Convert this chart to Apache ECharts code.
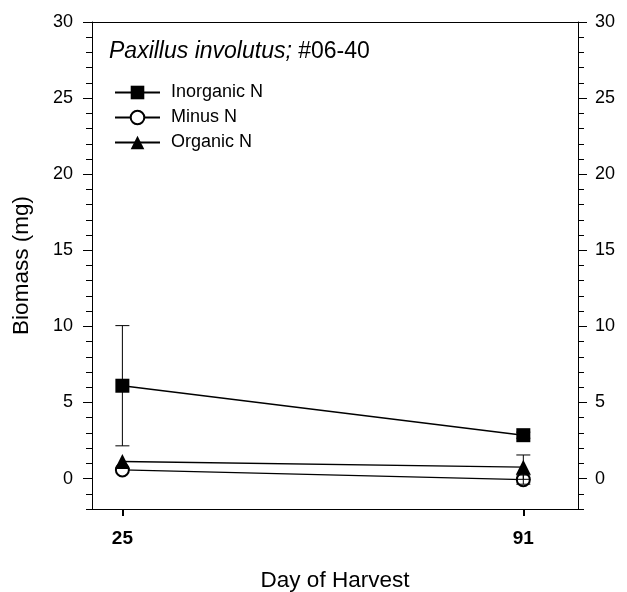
<!DOCTYPE html>
<html><head><meta charset="utf-8">
<script src="https://cdn.jsdelivr.net/npm/echarts@6/dist/echarts.min.js"></script>
<style>html,body{margin:0;padding:0;background:#fff}#c{width:627px;height:592px}</style>
</head><body><div id="c"></div>
<script>
const days = [25, 91];
const inorganic = [6.1, 2.85];
const inorganicErr = [3.95, 0.2];
const minus = [0.57, -0.07];
const minusErr = [0, 0.3];
const organic = [1.12, 0.75];
const organicErr = [0, 0.8];
const seriesNames = ['Inorganic N', 'Minus N', 'Organic N'];
const yMajor = [0, 5, 10, 15, 20, 25, 30];
const xTicks = [25, 91];

const FONT = 'Liberation Sans, Arial, sans-serif';
const chart = echarts.init(document.getElementById('c'), null, {renderer: 'canvas'});

function pts(vals) { return days.map((d, i) => [d, vals[i]]); }
function errPts(vals, errs) {
  const out = [];
  days.forEach((d, i) => { if (errs[i] > 0) out.push([d, vals[i], errs[i]]); });
  return out;
}
const errData = [].concat(errPts(inorganic, inorganicErr), errPts(minus, minusErr), errPts(organic, organicErr));

const yBase = {type: 'value', min: -2, max: 30, splitLine: {show: false}};
const lineSty = {color: '#000', width: 1};

chart.setOption({
  animation: false,
  textStyle: {fontFamily: FONT, color: '#000'},
  title: {
    left: 109, top: 40, padding: 0,
    text: '{i|Paxillus involutus;} #06-40',
    textStyle: {
      fontFamily: FONT, fontSize: 23, fontWeight: 'normal', color: '#000',
      rich: {i: {fontFamily: FONT, fontSize: 23, fontStyle: 'italic', color: '#000'}}
    }
  },
  legend: {
    orient: 'vertical', left: 114, top: 83.5, padding: 0,
    itemWidth: 45, itemHeight: 17, itemGap: 7,
    data: seriesNames,
    textStyle: {fontFamily: FONT, fontSize: 18, color: '#000', padding: [0, 0, 0, 6]}
  },
  grid: {left: 92, right: 49, top: 22, bottom: 83, containLabel: false, outerBoundsMode: 'none'},
  xAxis: [
    {
      type: 'value', min: 20, max: 100, position: 'bottom',
      name: 'Day of Harvest', nameLocation: 'middle', nameGap: 60,
      nameTextStyle: {fontFamily: FONT, fontSize: 22.5, color: '#000'},
      axisLine: {onZero: false, lineStyle: lineSty},
      axisTick: {customValues: xTicks, length: 7, lineStyle: {color: '#000', width: 2}},
      axisLabel: {customValues: xTicks, margin: 20, fontFamily: FONT, fontSize: 19, fontWeight: 'bold', color: '#000'},
      splitLine: {show: false}
    },
    {
      type: 'value', min: 20, max: 100, position: 'top',
      axisLine: {onZero: false, lineStyle: lineSty}, axisTick: {show: false}, axisLabel: {show: false}, splitLine: {show: false}
    }
  ],
  yAxis: [
    Object.assign({}, yBase, {
      position: 'left', interval: 1,
      name: 'Biomass (mg)', nameLocation: 'middle', nameGap: 59,
      nameTextStyle: {fontFamily: FONT, fontSize: 22.5, color: '#000'},
      axisLine: {show: true, onZero: false, lineStyle: lineSty},
      axisTick: {length: 6, lineStyle: lineSty},
      axisLabel: {customValues: yMajor, margin: 19, fontFamily: FONT, fontSize: 18, color: '#000'}
    }),
    Object.assign({}, yBase, {
      position: 'left',
      axisLine: {show: false, onZero: false},
      axisTick: {customValues: yMajor, length: 9, lineStyle: lineSty},
      axisLabel: {show: false}
    }),
    Object.assign({}, yBase, {
      position: 'right', interval: 1,
      axisLine: {show: true, onZero: false, lineStyle: lineSty},
      axisTick: {length: 6, lineStyle: lineSty},
      axisLabel: {customValues: yMajor, margin: 17, fontFamily: FONT, fontSize: 18, color: '#000'}
    }),
    Object.assign({}, yBase, {
      position: 'right',
      axisLine: {show: false, onZero: false},
      axisTick: {customValues: yMajor, length: 9, lineStyle: lineSty},
      axisLabel: {show: false}
    })
  ],
  series: [
    {
      name: seriesNames[0], type: 'line', data: pts(inorganic),
      symbol: 'rect', symbolSize: 14, color: '#000',
      lineStyle: {color: '#000', width: 1.4}, itemStyle: {color: '#000'}, z: 3
    },
    {
      name: seriesNames[1], type: 'line', data: pts(minus),
      symbol: 'emptyCircle', symbolSize: 13, color: '#000',
      lineStyle: {color: '#000', width: 1.4}, itemStyle: {color: '#000', borderWidth: 1.2}, z: 3
    },
    {
      name: seriesNames[2], type: 'line', data: pts(organic),
      symbol: 'triangle', symbolSize: 15, color: '#000',
      lineStyle: {color: '#000', width: 1.4}, itemStyle: {color: '#000'}, z: 3
    },
    {
      type: 'custom', data: errData, z: 10, silent: true,
      renderItem: function (params, api) {
        const x = api.value(0), y = api.value(1), e = api.value(2);
        const t = api.coord([x, y + e]), b = api.coord([x, y - e]);
        const hw = 7;
        const st = {stroke: '#000', lineWidth: 1};
        return {type: 'group', children: [
          {type: 'line', shape: {x1: t[0], y1: t[1], x2: b[0], y2: b[1]}, style: st},
          {type: 'line', shape: {x1: t[0] - hw, y1: t[1], x2: t[0] + hw, y2: t[1]}, style: st},
          {type: 'line', shape: {x1: b[0] - hw, y1: b[1], x2: b[0] + hw, y2: b[1]}, style: st}
        ]};
      }
    }
  ]
});
</script></body></html>
